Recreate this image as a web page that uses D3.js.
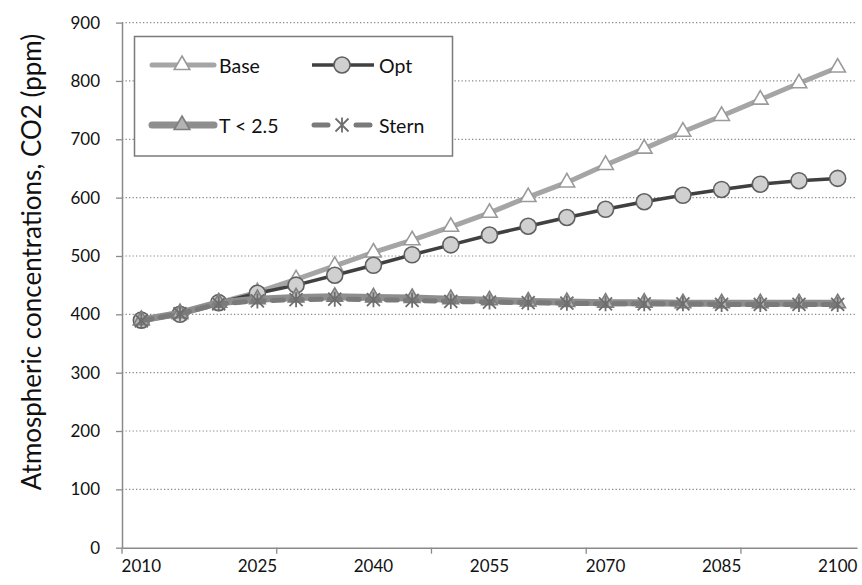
<!DOCTYPE html>
<html>
<head>
<meta charset="utf-8">
<script src="https://cdn.jsdelivr.net/npm/d3@7"></script>
<style>
  body { margin: 0; background: #fff; }
  svg, svg text { font-family: Lato, "Open Sans", sans-serif; }
</style>
</head>
<body>
<div id="app"></div>
<script>
const years = [2010, 2015, 2020, 2025, 2030, 2035, 2040, 2045, 2050, 2055,
  2060, 2065, 2070, 2075, 2080, 2085, 2090, 2095, 2100];
const labelYears = [2010, 2025, 2040, 2055, 2070, 2085, 2100];
const tickYears = [2010, 2030, 2050, 2070, 2090];
const yTicks = [0, 100, 200, 300, 400, 500, 600, 700, 800, 900];

const base = [390, 400, 420, 438, 460, 483, 506, 527, 550, 574, 601, 626, 656, 684, 713, 740, 768, 796, 823];
const opt = [390, 400, 420, 436, 450, 467, 484, 502, 519, 536, 551, 566, 580, 593, 604, 614, 623, 629, 633];
const t25 = [390, 402, 420, 426, 429, 430, 429, 428, 426, 424, 422, 421, 420, 420, 419, 419, 419, 419, 419];
const stern = [389, 401, 418, 423, 425, 426, 425, 424, 422, 421, 420, 419, 418, 418, 418, 417, 417, 417, 417];

const width = 862, height = 585;
const plotLeft = 122, plotRight = 857, plotTop = 22.6, plotBottom = 547.7;
const font = "Lato, 'Open Sans', sans-serif";

const svg = d3.select("#app").append("svg")
  .attr("width", width).attr("height", height);

const x = d3.scaleBand().domain(years).range([plotLeft, plotRight]);
const cx = (yr) => x(yr) + x.bandwidth() / 2;
const y = d3.scaleLinear().domain([0, 900]).range([plotBottom, plotTop]);

// gridlines
svg.append("g")
  .selectAll("line")
  .data(yTicks.filter((d) => d > 0))
  .enter()
  .append("line")
  .attr("x1", plotLeft).attr("x2", plotRight)
  .attr("y1", (d) => y(d)).attr("y2", (d) => y(d))
  .attr("stroke", "#8a8a8a")
  .attr("stroke-width", 1.2)
  .attr("stroke-dasharray", "1.3,2.2");

// y axis
const yAxis = svg.append("g")
  .attr("transform", `translate(${plotLeft},0)`)
  .call(d3.axisLeft(y).tickValues(yTicks).tickSize(6).tickPadding(16).tickSizeOuter(0))
  .attr("font-family", font).attr("font-size", 17);
yAxis.select(".domain").attr("stroke", "#8a8a8a").attr("stroke-width", 1.5);
yAxis.selectAll(".tick line").attr("stroke", "#8a8a8a").attr("stroke-width", 1.3);
yAxis.selectAll("text").attr("fill", "#111");

// x axis: labels centred on categories, ticks on band edges
const xAxis = svg.append("g")
  .attr("transform", `translate(0,${plotBottom})`)
  .call(d3.axisBottom(x).tickValues(labelYears).tickSize(0).tickPadding(12).tickSizeOuter(0))
  .attr("font-family", font).attr("font-size", 17);
xAxis.select(".domain").attr("stroke", "#8a8a8a").attr("stroke-width", 1.5);
xAxis.selectAll("text").attr("fill", "#111");
xAxis.selectAll(".xtick")
  .data(tickYears)
  .enter()
  .append("line")
  .attr("x1", (d) => x(d)).attr("x2", (d) => x(d))
  .attr("y1", 0).attr("y2", 6)
  .attr("stroke", "#8a8a8a").attr("stroke-width", 1.3);

svg.append("text")
  .attr("transform", `translate(31,262) rotate(-90)`)
  .attr("text-anchor", "middle")
  .attr("dominant-baseline", "central")
  .attr("font-size", 26)
  .attr("fill", "#111")
  .text("Atmospheric concentrations, CO2 (ppm)");

const series = [
  { name: "Base", values: base, line: "#a5a5a5", lw: 5, dash: null, marker: "tri", fill: "#fff", stroke: "#9a9a9a" },
  { name: "Opt", values: opt, line: "#404040", lw: 3.5, dash: null, marker: "circle", fill: "#d0d0d0", stroke: "#606060" },
  { name: "T < 2.5", values: t25, line: "#8e8e8e", lw: 7, dash: null, marker: "tri", fill: "#b4b4b4", stroke: "#7e7e7e" },
  { name: "Stern", values: stern, line: "#7a7a7a", lw: 5, dash: "11,8", marker: "star", fill: "none", stroke: "#6e6e6e" }
];

const line = d3.line().x((d, i) => cx(years[i])).y((d) => y(d));
const triangle = d3.symbol(d3.symbolTriangle, 105);

function drawMarker(g, s) {
  if (s.marker === "circle") {
    g.append("circle").attr("r", 8)
      .attr("fill", s.fill).attr("stroke", s.stroke).attr("stroke-width", 1.6);
  } else if (s.marker === "tri") {
    g.append("path").attr("d", triangle())
      .attr("fill", s.fill).attr("stroke", s.stroke).attr("stroke-width", 1.6);
  } else {
    const r = 6.5;
    g.append("path")
      .attr("d", `M${-r},${-r}L${r},${r}M${-r},${r}L${r},${-r}M0,${-r - 1}L0,${r + 1}`)
      .attr("stroke", s.stroke).attr("stroke-width", 1.8).attr("fill", "none");
  }
}

series.forEach((s) => {
  svg.append("path")
    .datum(s.values)
    .attr("d", line)
    .attr("fill", "none")
    .attr("stroke", s.line)
    .attr("stroke-width", s.lw)
    .attr("stroke-linecap", s.dash ? "round" : "butt")
    .attr("stroke-dasharray", s.dash);
  svg.append("g")
    .selectAll("g")
    .data(s.values)
    .enter()
    .append("g")
    .attr("transform", (d, i) => `translate(${cx(years[i])},${y(d)})`)
    .each(function () { drawMarker(d3.select(this), s); });
});

// legend
const legend = svg.append("g");
legend.append("rect")
  .attr("x", 134.5).attr("y", 36.5).attr("width", 318).attr("height", 119.5)
  .attr("fill", "#fff").attr("stroke", "#7a7a7a").attr("stroke-width", 1.5);

const legendPos = [[152, 65], [312, 65], [152, 125], [312, 125]];
series.forEach((s, i) => {
  const [lx, ly] = legendPos[i];
  const g = legend.append("g").attr("transform", `translate(${lx},${ly})`);
  if (s.dash) {
    g.append("line").attr("x1", 2).attr("x2", 16).attr("y1", 0).attr("y2", 0)
      .attr("stroke", s.line).attr("stroke-width", s.lw).attr("stroke-linecap", "round");
    g.append("line").attr("x1", 44).attr("x2", 58).attr("y1", 0).attr("y2", 0)
      .attr("stroke", s.line).attr("stroke-width", s.lw).attr("stroke-linecap", "round");
  } else {
    g.append("line").attr("x1", 0).attr("x2", 62).attr("y1", 0).attr("y2", 0)
      .attr("stroke", s.line).attr("stroke-width", s.lw)
      .attr("stroke-linecap", s.lw > 4 ? "round" : "butt");
  }
  drawMarker(g.append("g").attr("transform", "translate(30,0)"), s);
  g.append("text")
    .attr("x", 67)
    .attr("y", 0)
    .attr("dominant-baseline", "central")
    .attr("font-size", 19.5)
    .attr("fill", "#111")
    .text(s.name);
});
</script>
</body>
</html>
